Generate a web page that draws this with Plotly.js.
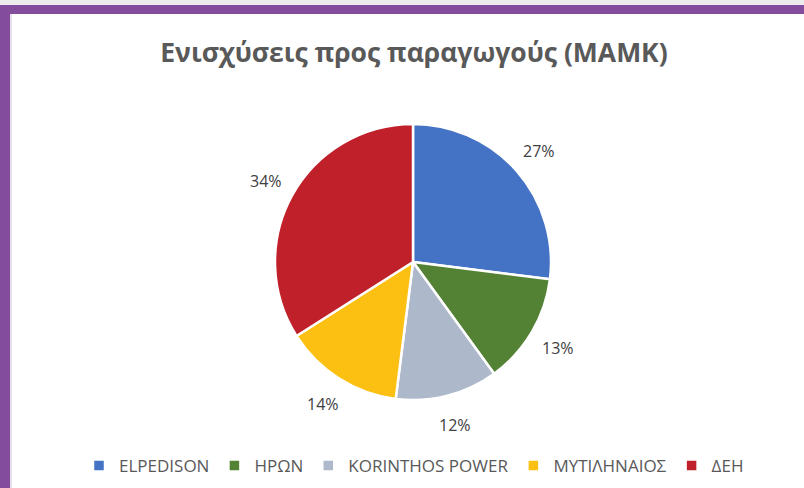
<!DOCTYPE html>
<html><head><meta charset="utf-8">
<script src="https://cdn.plot.ly/plotly-3.0.1.min.js"></script>
<style>html,body{margin:0;padding:0;background:#fff}</style>
</head><body><div id="chart" style="width:804px;height:488px"></div>
<script>
const categories = ["ELPEDISON", "ΗΡΩΝ", "KORINTHOS POWER", "ΜΥΤΙΛΗΝΑΙΟΣ", "ΔΕΗ"];
const values = [27, 13, 12, 14, 34];
const colors = ["#4472C4", "#548235", "#ADB9CA", "#FCC013", "#C0202A"];

const W = 804, H = 488;
const cx = 413, cy = 262, R = 138, labelR = 168;

const total = values.reduce((a, b) => a + b, 0);
const annotations = [];
let cum = 0;
values.forEach(v => {
  const mid = (cum + v / 2) / total * 2 * Math.PI;
  cum += v;
  const px = cx + labelR * Math.sin(mid);
  const py = cy - labelR * Math.cos(mid);
  annotations.push({
    x: px / W, y: 1 - py / H, xref: 'paper', yref: 'paper',
    xanchor: 'center', yanchor: 'middle',
    text: Math.round(v / total * 100) + '%', showarrow: false,
    font: {family: 'Open Sans, sans-serif', size: 16, color: '#404040'}
  });
});

const trace = {
  type: 'pie', labels: categories, values: values, sort: false,
  direction: 'clockwise', rotation: 0,
  marker: {colors: colors, line: {color: '#ffffff', width: 2.5}},
  textinfo: 'none', hoverinfo: 'label+percent',
  domain: {x: [(cx - R) / W, (cx + R) / W], y: [1 - (cy + R) / H, 1 - (cy - R) / H]}
};

const layout = {
  width: W, height: H,
  margin: {l: 0, r: 0, t: 0, b: 0},
  paper_bgcolor: '#ffffff',
  title: {text: 'Ενισχύσεις προς παραγωγούς (ΜΑΜΚ)', x: 414 / W, xanchor: 'center', y: 1 - 53 / H, yanchor: 'middle',
    font: {family: 'Open Sans, sans-serif', size: 26.5, color: '#595959', weight: 'bold'}},
  showlegend: true,
  legend: {orientation: 'h', x: 414 / W, xanchor: 'center', y: 1 - 466 / H, yanchor: 'middle',
    font: {family: 'Open Sans, sans-serif', size: 17, color: '#595959'}, itemwidth: 30, bgcolor: 'rgba(0,0,0,0)'},
  annotations: annotations,
  shapes: [
    {type: 'rect', xref: 'paper', yref: 'paper', x0: 0, x1: 1, y0: 1 - 5 / H, y1: 1, fillcolor: '#EDEDED', line: {width: 0}},
    {type: 'rect', xref: 'paper', yref: 'paper', x0: 0, x1: 1, y0: 1 - 14 / H, y1: 1 - 5 / H, fillcolor: '#844C9C', line: {width: 0}},
    {type: 'rect', xref: 'paper', yref: 'paper', x0: 0, x1: 10 / W, y0: 0, y1: 1 - 5 / H, fillcolor: '#844C9C', line: {width: 0}},
    {type: 'rect', xref: 'paper', yref: 'paper', x0: 10 / W, x1: 12 / W, y0: 0, y1: 1 - 14 / H, fillcolor: '#E4E0E8', line: {width: 0}}
  ]
};

Plotly.newPlot('chart', [trace], layout, {displayModeBar: false, staticPlot: true});
</script></body></html>
